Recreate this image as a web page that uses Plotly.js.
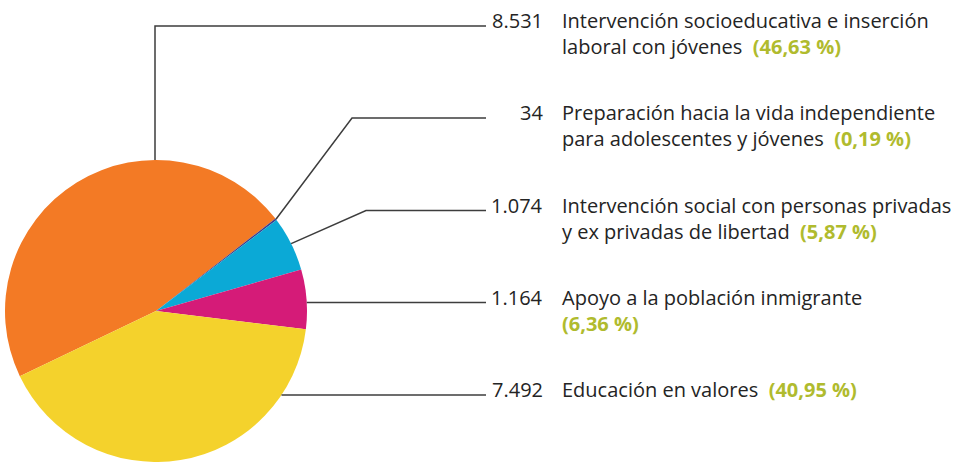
<!DOCTYPE html>
<html>
<head>
<meta charset="utf-8">
<script src="https://cdn.plot.ly/plotly-3.0.1.min.js"></script>
<style>html,body{margin:0;padding:0;background:#fff;}#chart{width:965px;height:462px;}</style>
</head>
<body>
<div id="chart"></div>
<script>
// ---- data ----
var categories = [
  "Intervención socioeducativa e inserción laboral con jóvenes",
  "Preparación hacia la vida independiente para adolescentes y jóvenes",
  "Intervención social con personas privadas y ex privadas de libertad",
  "Apoyo a la población inmigrante",
  "Educación en valores"
];
var values = [8531, 34, 1074, 1164, 7492];
var labelLine1 = [
  "Intervención socioeducativa e inserción",
  "Preparación hacia la vida independiente",
  "Intervención social con personas privadas",
  "Apoyo a la población inmigrante",
  "Educación en valores"
];
var labelLine2 = [
  "laboral con jóvenes",
  "para adolescentes y jóvenes",
  "y ex privadas de libertad",
  "",
  ""
];
var colors = ["#f37a25", "#3b3d8c", "#0ba9d6", "#d51b78", "#f4d22c"];

// ---- layout helpers (pixel -> paper) ----
var W = 965, H = 462;
function px(x){ return x / W; }
function py(y){ return 1 - y / H; }
var total = values.reduce(function(a,b){return a+b;}, 0);
function fmtNum(v){ return String(v).replace(/\B(?=(\d{3})+(?!\d))/g, "."); }
function fmtPct(v){ return "(" + (v / total * 100).toFixed(2).replace(".", ",") + "\u00a0%)"; }

var cx = 156, cy = 311, R = 151;       // pie geometry in px
var startDeg = 205.6;                   // math angle where first slice starts
var labelY = [26, 118, 210.5, 302.5, 395]; // baseline of each label block
var numRight = 545, textLeft = 560, lineEnd = 486;
var FS = 20, green = "#b0bb2e", txt = "#242424", lineCol = "#3d3d3d";

// slice mid angles from data
var mids = [], acc = 0;
values.forEach(function(v){
  var a0 = startDeg - acc / total * 360;
  acc += v;
  var a1 = startDeg - acc / total * 360;
  mids.push((a0 + a1) / 2);
});
function edge(deg){ var r = deg * Math.PI / 180; return [cx + R * Math.cos(r), cy - R * Math.sin(r)]; }

var shapes = [];
function path(pts){
  var d = pts.map(function(p,i){ return (i ? "L" : "M") + px(p[0]) + "," + py(p[1]); }).join(" ");
  shapes.push({type:"path", xref:"paper", yref:"paper", path:d, line:{color:lineCol, width:1.5}});
}
// 0: vertical from top of pie
path([[cx - 1, cy - R], [cx - 1, labelY[0]], [lineEnd, labelY[0]]]);
// 1,2: diagonal from slice mid to elbow
var elbowX = [null, 352, 366];
[1,2].forEach(function(i){
  var e = edge(mids[i]);
  path([e, [elbowX[i], labelY[i]], [lineEnd, labelY[i]]]);
});
// 3,4: horizontal from pie edge
[3,4].forEach(function(i){
  var dy = labelY[i] - cy;
  var ex = cx + Math.sqrt(R*R - dy*dy);
  path([[ex, labelY[i]], [lineEnd, labelY[i]]]);
});

var annotations = [];
values.forEach(function(v, i){
  var top = labelY[i] - 21;
  annotations.push({xref:"paper", yref:"paper", x:px(numRight), y:py(top), xanchor:"right", yanchor:"top",
    showarrow:false, align:"right", text:fmtNum(v), font:{family:"Open Sans", size:FS, color:txt}});
  var pct = "<b><span style='color:" + green + "'>" + fmtPct(v) + "</span></b>";
  var t;
  if (labelLine2[i]) t = labelLine1[i] + "<br>" + labelLine2[i] + "\u00a0\u00a0" + pct;
  else if (i === 3) t = labelLine1[i] + "<br>" + pct;
  else t = labelLine1[i] + "\u00a0\u00a0" + pct;
  annotations.push({xref:"paper", yref:"paper", x:px(textLeft), y:py(top), xanchor:"left", yanchor:"top",
    showarrow:false, align:"left", text:t, font:{family:"Open Sans", size:FS, color:txt}});
});

var trace = {
  type:"pie", labels:categories, values:values, sort:false, direction:"clockwise",
  rotation: 90 - startDeg, textinfo:"none", hoverinfo:"none",
  marker:{colors:colors, line:{width:0}},
  domain:{x:[px(cx - R), px(cx + R)], y:[py(cy + R), py(cy - R)]}
};

Plotly.newPlot("chart", [trace], {
  width:W, height:H, margin:{l:0, r:0, t:0, b:0}, showlegend:false,
  paper_bgcolor:"#fff", plot_bgcolor:"#fff", shapes:shapes, annotations:annotations
}, {staticPlot:true});
</script>
</body>
</html>
